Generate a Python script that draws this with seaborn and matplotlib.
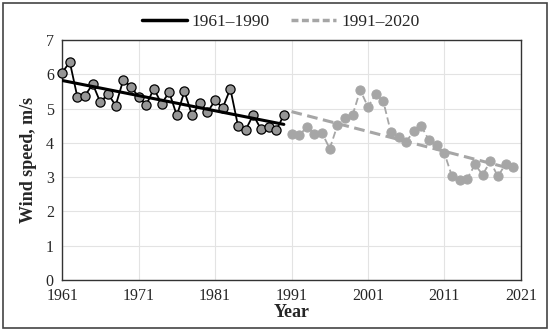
import numpy as np
import pandas as pd
import seaborn as sns
import matplotlib.pyplot as plt
from matplotlib.lines import Line2D
from matplotlib.patches import Rectangle

# annual mean wind speed, m/s
years_1 = list(range(1961, 1991))
speed_1 = [6.05, 6.36, 5.33, 5.38, 5.72, 5.18, 5.43, 5.09, 5.84, 5.63,
           5.35, 5.11, 5.58, 5.14, 5.48, 4.80, 5.50, 4.80, 5.16, 4.89,
           5.24, 5.02, 5.58, 4.50, 4.38, 4.82, 4.40, 4.47, 4.37, 4.81]

years_2 = list(range(1991, 2021))
speed_2 = [4.27, 4.22, 4.46, 4.27, 4.29, 3.83, 4.51, 4.74, 4.82, 5.54,
           5.05, 5.42, 5.22, 4.31, 4.17, 4.04, 4.34, 4.48, 4.07, 3.93,
           3.70, 3.02, 2.91, 2.96, 3.37, 3.07, 3.46, 3.02, 3.39, 3.30]

x_ticks = list(range(1961, 2022, 10))
y_ticks = list(range(0, 8))

df1 = pd.DataFrame({'year': years_1, 'speed': speed_1})
df2 = pd.DataFrame({'year': years_2, 'speed': speed_2})

sns.set_style('white')
plt.rcParams['font.family'] = ['Liberation Serif', 'DejaVu Serif']

fig = plt.figure(figsize=(5.5, 3.31), dpi=100)
ax = fig.add_axes([0.113, 0.154, 0.834, 0.725])

grey = '#a6a6a6'

# observed series
sns.lineplot(data=df1, x='year', y='speed', ax=ax, color='black', linewidth=1.3,
             marker='o', markersize=6.6, markerfacecolor='#969696',
             markeredgecolor='black', markeredgewidth=0.9, zorder=4, clip_on=False)
sns.lineplot(data=df2, x='year', y='speed', ax=ax, color=grey, linewidth=1.3,
             linestyle=(0, (4, 2)), marker='o', markersize=6.6,
             markerfacecolor=grey, markeredgecolor=grey, zorder=3)

# linear trends
sns.regplot(data=df1, x='year', y='speed', ax=ax, scatter=False, ci=None,
            truncate=True, line_kws={'color': 'black', 'linewidth': 2.2, 'zorder': 5})
sns.regplot(data=df2, x='year', y='speed', ax=ax, scatter=False, ci=None,
            truncate=True, line_kws={'color': grey, 'linewidth': 2.2,
                                     'linestyle': (0, (3.5, 1.8)), 'zorder': 2})

ax.set_xlim(1961, 2021)
ax.set_ylim(0, 7)
ax.set_xticks(x_ticks)
ax.set_yticks(y_ticks)
ax.grid(True, color='#e3e3e3', linewidth=0.8)
ax.set_axisbelow(True)
for s in ax.spines.values():
    s.set_color('#333333')
    s.set_linewidth(1.0)
ax.tick_params(axis='both', labelsize=11.5, length=0, pad=6)
ax.set_xlabel('Year', fontsize=13, fontweight='bold', labelpad=0)
ax.set_ylabel('Wind speed, m/s', fontsize=13, fontweight='bold', labelpad=6)

handles = [Line2D([], [], color='black', linewidth=2.5),
           Line2D([], [], color=grey, linewidth=2.5, linestyle=(0, (2, 1)))]
fig.legend(handles, ['1961–1990', '1991–2020'], loc='center',
           bbox_to_anchor=(0.51, 0.935), ncol=2, frameon=False, fontsize=12.5,
           handlelength=2.6, handletextpad=0.3, columnspacing=1.2)

# outer frame
fig.patches.append(Rectangle((0.006, 0.009), 0.988, 0.982, transform=fig.transFigure,
                             fill=False, edgecolor='#444444', linewidth=1.2))

fig.savefig('out.png', dpi=100)
